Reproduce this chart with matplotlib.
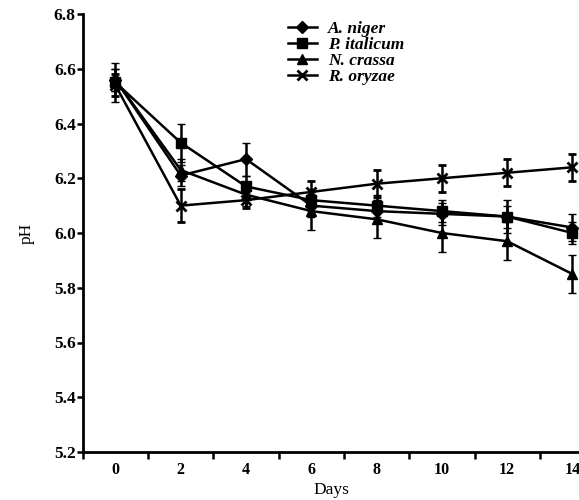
import numpy as np
import matplotlib.pyplot as plt
from matplotlib.ticker import FixedLocator

days = [0, 2, 4, 6, 8, 10, 12, 14]

niger = [6.56, 6.21, 6.27, 6.10, 6.08, 6.07, 6.06, 6.02]
niger_err = [0.04, 0.04, 0.06, 0.04, 0.04, 0.04, 0.04, 0.05]
italicum = [6.55, 6.33, 6.17, 6.12, 6.10, 6.08, 6.06, 6.00]
italicum_err = [0.07, 0.07, 0.04, 0.04, 0.04, 0.04, 0.06, 0.04]
crassa = [6.56, 6.23, 6.14, 6.08, 6.05, 6.00, 5.97, 5.85]
crassa_err = [0.04, 0.04, 0.04, 0.07, 0.07, 0.07, 0.07, 0.07]
oryzae = [6.54, 6.10, 6.12, 6.15, 6.18, 6.20, 6.22, 6.24]
oryzae_err = [0.04, 0.06, 0.03, 0.04, 0.05, 0.05, 0.05, 0.05]

names = ['A. niger', 'P. italicum', 'N. crassa', 'R. oryzae']
markers = ['D', 's', '^', 'x']
series = [niger, italicum, crassa, oryzae]
errors = [niger_err, italicum_err, crassa_err, oryzae_err]

plt.rcParams['font.family'] = ['Liberation Serif', 'DejaVu Serif']
plt.rcParams['font.weight'] = 'bold'

fig = plt.figure(figsize=(5.79, 5.0), dpi=100)
ax = fig.add_axes([0.143, 0.096, 0.857, 0.876])

handles = []
for name, m, y, e in zip(names, markers, series, errors):
    ms = 6.5 if m == 'D' else 7
    c = ax.errorbar(days, y, yerr=e, color='black', marker=m, markersize=ms,
                    markeredgewidth=2 if m == 'x' else 1, linewidth=1.8,
                    elinewidth=1.8, capsize=3, capthick=1.8, label=name)
    handles.append(c.lines[0])

ax.set_xlim(-1, 14.2)
ax.set_ylim(5.2, 6.8)
yt = np.arange(5.2, 6.81, 0.2)
ax.set_yticks(yt)
ax.set_yticklabels([f'{v:.1f}' for v in yt])
ax.set_xticks(days)
ax.xaxis.set_minor_locator(FixedLocator([-1, 1, 3, 5, 7, 9, 11, 13]))
ax.tick_params(axis='x', which='major', length=0, pad=7, labelsize=11.5)
ax.tick_params(axis='x', which='minor', length=5, width=1.8, direction='out')
ax.tick_params(axis='y', length=4, width=1.8, pad=1, labelsize=12.5)

for s in ['top', 'right']:
    ax.spines[s].set_visible(False)
for s in ['left', 'bottom']:
    ax.spines[s].set_linewidth(2)

ax.set_xlabel('Days', fontsize=12.5, labelpad=3)
ax.set_ylabel('pH', fontsize=12.5, labelpad=14)

ax.legend(handles=handles, labels=names, loc='upper left',
          bbox_to_anchor=(0.413, 0.985), frameon=False,
          prop={'style': 'italic', 'weight': 'bold', 'size': 12.5},
          handlelength=1.67, handletextpad=0.67, labelspacing=0.0,
          borderpad=0, borderaxespad=0)

fig.savefig('out.png', dpi=100)
